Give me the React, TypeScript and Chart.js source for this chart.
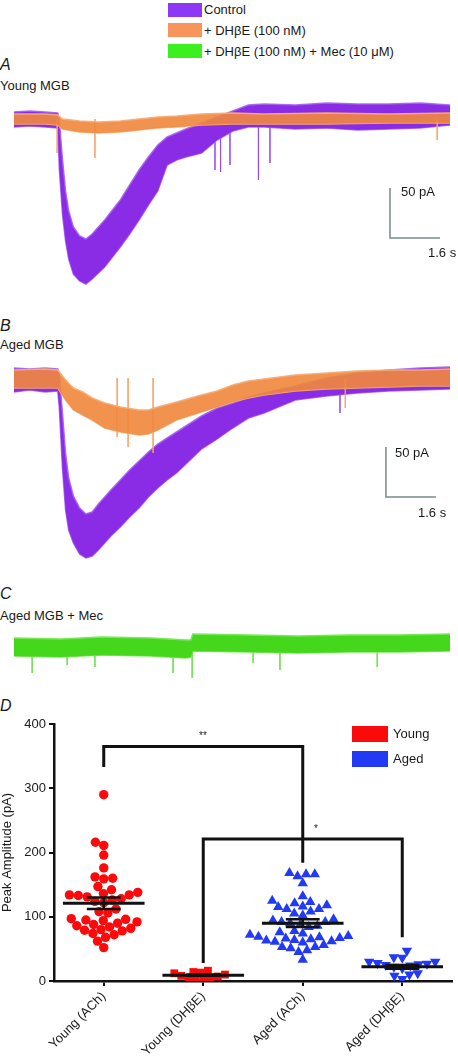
import React, { useEffect, useRef } from "react";
import { Chart, registerables } from "chart.js";
Chart.register(...registerables);

const FONT = '"Liberation Sans", Arial, Helvetica, sans-serif';

// ---------- Trace data (time in s, current in pA, baseline = 0) ----------
const traceTime = [0, 0.5, 1.0, 1.4, 1.45, 1.55, 1.65, 1.75, 1.9, 2.1, 2.3, 2.5, 2.7, 2.9, 3.1, 3.4, 3.7, 4.0, 4.3, 4.6, 4.9, 5.2, 5.5, 6.0, 6.5, 7.0, 7.5, 8.0, 9, 10, 11, 12, 13, 13.95];
const youngControlUpper = [7, 8, 7, 6, -1, -40, -72, -92, -108, -117, -120, -115, -108, -101, -93, -81, -66, -51, -38, -26, -18, -14, -10, -4, 2, 8, 14, 15, 14, 16, 15, 15, 16, 14];
const youngControlLower = [-8, -7, -8, -9, -50, -95, -122, -140, -155, -162, -165, -160, -154, -148, -140, -128, -115, -101, -86, -72, -46, -41, -38, -34, -21, -12, -8, -8, -10, -9, -11, -10, -9, -6];
const youngControlSpikeT = [6.43, 6.61, 6.91, 7.82, 8.19];
const youngControlSpikeY = [-51, -53, -46, -61, -44];

const youngDhbeTime = [0, 1.0, 1.4, 1.55, 2.1, 2.7, 3.4, 4.0, 4.6, 5.2, 6.0, 7.0, 8.0, 10, 12, 13.95];
const youngDhbeUpper = [5, 5, 4, 0, -2, -3, -2, 0, 2, 3, 5, 6, 5, 6, 5, 6];
const youngDhbeLower = [-5, -5, -6, -10, -13, -14, -13, -11, -9, -8, -6, -5, -5, -5, -4, -4];
const youngDhbeSpikeT = [1.38, 2.59, 13.54];
const youngDhbeSpikeY = [-34, -39, -21];

const agedControlUpper = [10, 9, 10, 9, 3, -35, -75, -100, -118, -130, -136, -134, -126, -119, -112, -102, -92, -83, -74, -66, -60, -54, -48, -38, -30, -25, -19, -15, -8, 0, 5, 8, 10, 11];
const agedControlLower = [-14, -12, -14, -13, -30, -90, -132, -152, -165, -176, -180, -178, -172, -165, -158, -149, -139, -130, -119, -110, -102, -95, -86, -71, -61, -50, -40, -35, -22, -18, -15, -13, -12, -11];
const agedControlSpikeT = [10.43];
const agedControlSpikeY = [-35];

const agedDhbeTime = [0, 1.0, 1.4, 1.65, 1.9, 2.2, 2.5, 2.9, 3.4, 4.0, 4.3, 4.6, 5.2, 6.0, 6.5, 7.0, 7.5, 8.0, 9, 10, 11, 12, 13, 13.95];
const agedDhbeUpper = [8, 9, 8, -2, -10, -14, -20, -25, -29, -32, -32, -29, -24, -17, -13, -7, -3, -1, 3, 5, 7, 8, 8, 9];
const agedDhbeLower = [-10, -10, -10, -22, -32, -37, -42, -50, -54, -57, -56, -52, -42, -34, -29, -24, -20, -17, -13, -11, -10, -9, -8, -8];
const agedDhbeSpikeT = [3.3, 3.65, 4.45, 10.6];
const agedDhbeSpikeY = [-59, -69, -75, -30];

const mecTime = [0, 1.5, 2.8, 4.4, 5.5, 5.66, 5.72, 7.5, 9.1, 10.7, 12.3, 13.95];
const mecUpper = [9, 8, 10, 9, 7, 7, 13, 12, 11, 12, 12, 13];
const mecLower = [-9, -10, -8, -9, -11, -10, -4, -5, -6, -5, -5, -4];
const mecSpikeT = [0.58, 1.7, 2.59, 5.09, 5.7, 7.65, 8.51, 11.62];
const mecSpikeY = [-26, -18, -20, -26, -31, -16, -23, -20];

// scale bars: 50 pA, 1.6 s
const scaleBarPA = 50;
const scaleBarS = 1.6;
const scaleBarA = { t: 12.03, y: -119 };
const scaleBarB = { t: 11.9, y: -119 };

// ---------- Panel D data ----------
const categories = ["Young (ACh)", "Young (DHβE)", "Aged (ACh)", "Aged (DHβE)"];
const youngAch = [290, 216, 211, 196, 176, 162, 160, 159, 147, 142, 138, 136, 134, 134, 133, 131, 128, 126, 124, 122, 112, 108, 106, 97, 96, 95, 94, 92, 90, 88, 86, 84, 82, 80, 79, 78, 74, 72, 68, 62, 52];
const youngDhbe = [16, 14, 13, 12, 10, 8, 7, 5, 4, 3, 2];
const agedAch = [168, 166, 166, 163, 152, 132, 125, 123, 121, 118, 116, 115, 112, 112, 108, 105, 102, 96, 94, 92, 92, 90, 88, 86, 84, 78, 76, 74, 72, 70, 69, 68, 67, 66, 65, 64, 63, 62, 61, 60, 56, 53, 53, 51, 48, 45, 33];
const agedDhbe = [47, 37, 36, 30, 30, 28, 27, 26, 25, 24, 22, 20, 12, 10, 8, 3];
const groupMeans = [121, 9, 90, 22];
const groupSems = [9, 1, 6, 3];
const bracketStarsHigh = { from: 0, to: 2, top: 365, leftEnd: 333, rightEnd: 184 };
const bracketStarsLow = { from: 1, to: 3, top: 221, leftEnd: 28, rightEnd: 68 };

const PURPLE = "rgb(138,43,230)";
const PURPLE_EDGE = "rgba(165,95,242,0.9)";
const ORANGE = "rgba(240,135,60,0.9)";
const ORANGE_EDGE = "rgba(248,172,118,0.95)";
const GREEN = "rgb(68,215,28)";
const GREEN_EDGE = "rgb(120,232,88)";
const RED = "rgb(250,10,10)";
const BLUE = "rgb(35,58,245)";
const SCALE_GREY = "rgb(120,138,138)";

function band(t: number[], up: number[], lo: number[], fillColor: string, edge: string) {
  return [
    { data: t.map((x, i) => ({ x, y: up[i] })), borderColor: edge, backgroundColor: fillColor, borderWidth: 1.5, pointRadius: 0, fill: "+1" },
    { data: t.map((x, i) => ({ x, y: lo[i] })), borderColor: edge, backgroundColor: fillColor, borderWidth: 1.5, pointRadius: 0, fill: false },
  ];
}

function spikes(t: number[], depth: number[], color: string) {
  const data: any[] = [];
  t.forEach((x, i) => {
    data.push({ x, y: 0 }, { x, y: depth[i] }, { x, y: null });
  });
  return { data, borderColor: color, borderWidth: 1, pointRadius: 0, fill: false, spanGaps: false };
}

function scaleBar(s: { t: number; y: number }) {
  return {
    data: [
      { x: s.t, y: s.y + scaleBarPA },
      { x: s.t, y: s.y },
      { x: s.t + scaleBarS, y: s.y },
    ],
    borderColor: SCALE_GREY,
    borderWidth: 1.5,
    pointRadius: 0,
    fill: false,
  };
}

function traceConfig(datasets: any[], yMin: number, yMax: number) {
  return {
    type: "line",
    data: { datasets },
    options: {
      animation: false,
      responsive: false,
      maintainAspectRatio: false,
      devicePixelRatio: 1,
      layout: { padding: 0 },
      elements: { line: { tension: 0 } },
      plugins: { legend: { display: false }, tooltip: { enabled: false } },
      scales: {
        x: { type: "linear", display: false, min: 0, max: 13.95 },
        y: { type: "linear", display: false, min: yMin, max: yMax },
      },
    },
  };
}

// beeswarm offsets (in category units) computed from the values
const PX_PER_CAT = 100.25;
const PX_PER_PA = 257 / 400;
function swarm(values: number[], diam: number): number[] {
  const order = values.map((_, i) => i).sort((a, b) => values[a] - values[b]);
  const placed: { x: number; y: number }[] = [];
  const offs = new Array(values.length).fill(0);
  for (const i of order) {
    const y = values[i] * PX_PER_PA;
    const forb: [number, number][] = [];
    for (const p of placed) {
      const dy = Math.abs(p.y - y);
      if (dy < diam) {
        const dx = Math.sqrt(diam * diam - dy * dy);
        forb.push([p.x - dx, p.x + dx]);
      }
    }
    const cands = [0];
    forb.forEach((f) => cands.push(f[0], f[1]));
    cands.sort((a, b) => Math.abs(a) - Math.abs(b) || a - b);
    let x = 0;
    for (const c of cands) {
      if (!forb.some((f) => c > f[0] + 1e-6 && c < f[1] - 1e-6)) {
        x = c;
        break;
      }
    }
    placed.push({ x, y });
    offs[i] = x / PX_PER_CAT;
  }
  return offs;
}

function groupPoints(values: number[], idx: number, diam: number) {
  const offs = swarm(values, diam);
  return values.map((v, i) => ({ x: idx + offs[i], y: v }));
}

function dotConfig() {
  const lineDs = (data: any[], width: number) => ({
    data,
    showLine: true,
    borderColor: "#111",
    borderWidth: width,
    pointRadius: 0,
    fill: false,
    spanGaps: false,
  });
  const meanData: any[] = [];
  const semData: any[] = [];
  groupMeans.forEach((m, i) => {
    meanData.push({ x: i - 0.41, y: m }, { x: i + 0.41, y: m }, { x: i, y: null });
    const s = groupSems[i];
    semData.push(
      { x: i, y: m - s }, { x: i, y: m + s }, { x: i, y: null },
      { x: i - 0.17, y: m + s }, { x: i + 0.17, y: m + s }, { x: i, y: null },
      { x: i - 0.17, y: m - s }, { x: i + 0.17, y: m - s }, { x: i, y: null }
    );
  });
  const bracket = (b: any) => [
    { x: b.from, y: b.leftEnd }, { x: b.from, y: b.top }, { x: b.to, y: b.top }, { x: b.to, y: b.rightEnd },
  ];
  const pts = (data: any[], color: string, style: string, radius: number, rot = 0) => ({
    data,
    showLine: false,
    pointStyle: style,
    pointRadius: radius,
    pointRotation: rot,
    backgroundColor: color,
    borderColor: color,
    borderWidth: 0,
  });
  return {
    type: "scatter",
    data: {
      datasets: [
        lineDs(meanData, 3),
        lineDs(semData, 2.5),
        lineDs(bracket(bracketStarsHigh), 3),
        lineDs(bracket(bracketStarsLow), 3),
        pts(groupPoints(youngAch, 0, 9), RED, "circle", 4.7),
        pts(groupPoints(youngDhbe, 1, 7.5), RED, "rect", 5.5),
        pts(groupPoints(agedAch, 2, 8.8), BLUE, "triangle", 6),
        pts(groupPoints(agedDhbe, 3, 8.5), BLUE, "triangle", 6, 180),
      ],
    },
    options: {
      animation: false,
      responsive: false,
      maintainAspectRatio: false,
      devicePixelRatio: 1,
      layout: { padding: { top: 34, right: 3, left: 0, bottom: 0 } },
      plugins: { legend: { display: false }, tooltip: { enabled: false } },
      scales: {
        x: {
          type: "linear",
          min: -0.5,
          max: 3.5,
          afterBuildTicks: (ax: any) => {
            ax.ticks = categories.map((_, i) => ({ value: i }));
          },
          afterFit: (ax: any) => {
            ax.height = 76;
          },
          ticks: {
            callback: (v: any) => categories[Math.round(Number(v))] ?? "",
            minRotation: 45,
            maxRotation: 45,
            autoSkip: false,
            font: { family: FONT, size: 13 },
            color: "#1a1a1a",
            padding: 3,
          },
          grid: { display: true, drawOnChartArea: false, drawTicks: true, tickLength: 5, color: "#111", lineWidth: 2 },
          border: { display: true, color: "#111", width: 2.5 },
        },
        y: {
          type: "linear",
          min: 0,
          max: 400,
          afterFit: (ax: any) => {
            ax.width = 54;
          },
          ticks: { stepSize: 100, font: { family: FONT, size: 13 }, color: "#1a1a1a", padding: 3 },
          title: { display: true, text: "Peak Amplitude (pA)", font: { family: FONT, size: 13 }, color: "#1a1a1a", padding: 0 },
          grid: { display: true, drawOnChartArea: false, drawTicks: true, tickLength: 5, color: "#111", lineWidth: 2 },
          border: { display: true, color: "#111", width: 2.5 },
        },
      },
    },
  };
}

function ChartBox({ left, top, width, height, make }: { left: number; top: number; width: number; height: number; make: () => any }) {
  const ref = useRef<HTMLCanvasElement>(null);
  useEffect(() => {
    const chart = new Chart(ref.current as HTMLCanvasElement, make());
    return () => chart.destroy();
  }, []);
  return <canvas ref={ref} width={width} height={height} style={{ position: "absolute", left, top, width, height }} />;
}

function Txt({ x, y, size, children, italic }: { x: number; y: number; size: number; children: any; italic?: boolean }) {
  const lh = Math.round(size * 1.2);
  return (
    <div
      style={{
        position: "absolute",
        left: x,
        top: y - lh / 2,
        fontSize: size,
        lineHeight: lh + "px",
        fontStyle: italic ? "italic" : "normal",
        whiteSpace: "nowrap",
        fontFamily: FONT,
        color: "#1a1a1a",
      }}
    >
      {children}
    </div>
  );
}

function Box({ x, y, w, h, color }: { x: number; y: number; w: number; h: number; color: string }) {
  return <div style={{ position: "absolute", left: x, top: y, width: w, height: h, background: color }} />;
}

export default function App() {
  return (
    <div style={{ position: "absolute", left: 0, top: 0, width: 458, height: 1057, background: "#fff", overflow: "hidden" }}>
      {/* top legend */}
      <Box x={168} y={3} w={34} h={14} color="rgb(140,56,245)" />
      <Box x={168} y={23} w={34} h={14} color="rgb(247,149,90)" />
      <Box x={168} y={44} w={34} h={14} color="rgb(60,240,32)" />
      <Txt x={204} y={10} size={13}>Control</Txt>
      <Txt x={204} y={31} size={13}>+ DHβE (100 nM)</Txt>
      <Txt x={204} y={52} size={13}>+ DHβE (100 nM) + Mec (10 μM)</Txt>

      <Txt x={0} y={64} size={16} italic>A</Txt>
      <Txt x={0} y={86} size={13}>Young MGB</Txt>
      <ChartBox
        left={14}
        top={95}
        width={436}
        height={210}
        make={() =>
          traceConfig(
            [
              ...band(youngDhbeTime, youngDhbeUpper, youngDhbeLower, ORANGE, ORANGE_EDGE),
              spikes(youngDhbeSpikeT, youngDhbeSpikeY, "rgba(245,160,100,0.8)"),
              ...band(traceTime, youngControlUpper, youngControlLower, PURPLE, PURPLE_EDGE),
              spikes(youngControlSpikeT, youngControlSpikeY, "rgba(150,70,240,0.75)"),
              scaleBar(scaleBarA),
            ],
            -186,
            24
          )
        }
      />
      <Txt x={401} y={192} size={13}>50 pA</Txt>
      <Txt x={428} y={253} size={13}>1.6 s</Txt>

      <Txt x={0} y={325} size={16} italic>B</Txt>
      <Txt x={0} y={345} size={13}>Aged MGB</Txt>
      <ChartBox
        left={14}
        top={355}
        width={436}
        height={215}
        make={() =>
          traceConfig(
            [
              ...band(agedDhbeTime, agedDhbeUpper, agedDhbeLower, ORANGE, ORANGE_EDGE),
              spikes(agedDhbeSpikeT, agedDhbeSpikeY, "rgba(245,160,100,0.8)"),
              ...band(traceTime, agedControlUpper, agedControlLower, PURPLE, PURPLE_EDGE),
              spikes(agedControlSpikeT, agedControlSpikeY, "rgba(150,70,240,0.75)"),
              scaleBar(scaleBarB),
            ],
            -192,
            23
          )
        }
      />
      <Txt x={395} y={453} size={13}>50 pA</Txt>
      <Txt x={418} y={513} size={13}>1.6 s</Txt>

      <Txt x={0} y={593} size={16} italic>C</Txt>
      <Txt x={0} y={616} size={13}>Aged MGB + Mec</Txt>
      <ChartBox
        left={14}
        top={625}
        width={436}
        height={60}
        make={() =>
          traceConfig(
            [...band(mecTime, mecUpper, mecLower, GREEN, GREEN_EDGE), spikes(mecSpikeT, mecSpikeY, "rgba(100,225,70,0.8)")],
            -38,
            22
          )
        }
      />

      <Txt x={0} y={705} size={16} italic>D</Txt>
      <ChartBox left={0} top={690} width={458} height={367} make={dotConfig} />
      <Box x={352} y={726} w={36} h={16} color={RED} />
      <Box x={352} y={751} w={36} h={16} color={BLUE} />
      <Txt x={393} y={734} size={13}>Young</Txt>
      <Txt x={393} y={759} size={13}>Aged</Txt>
      <Txt x={199} y={736} size={10}>**</Txt>
      <Txt x={314} y={829} size={10}>*</Txt>
    </div>
  );
}
